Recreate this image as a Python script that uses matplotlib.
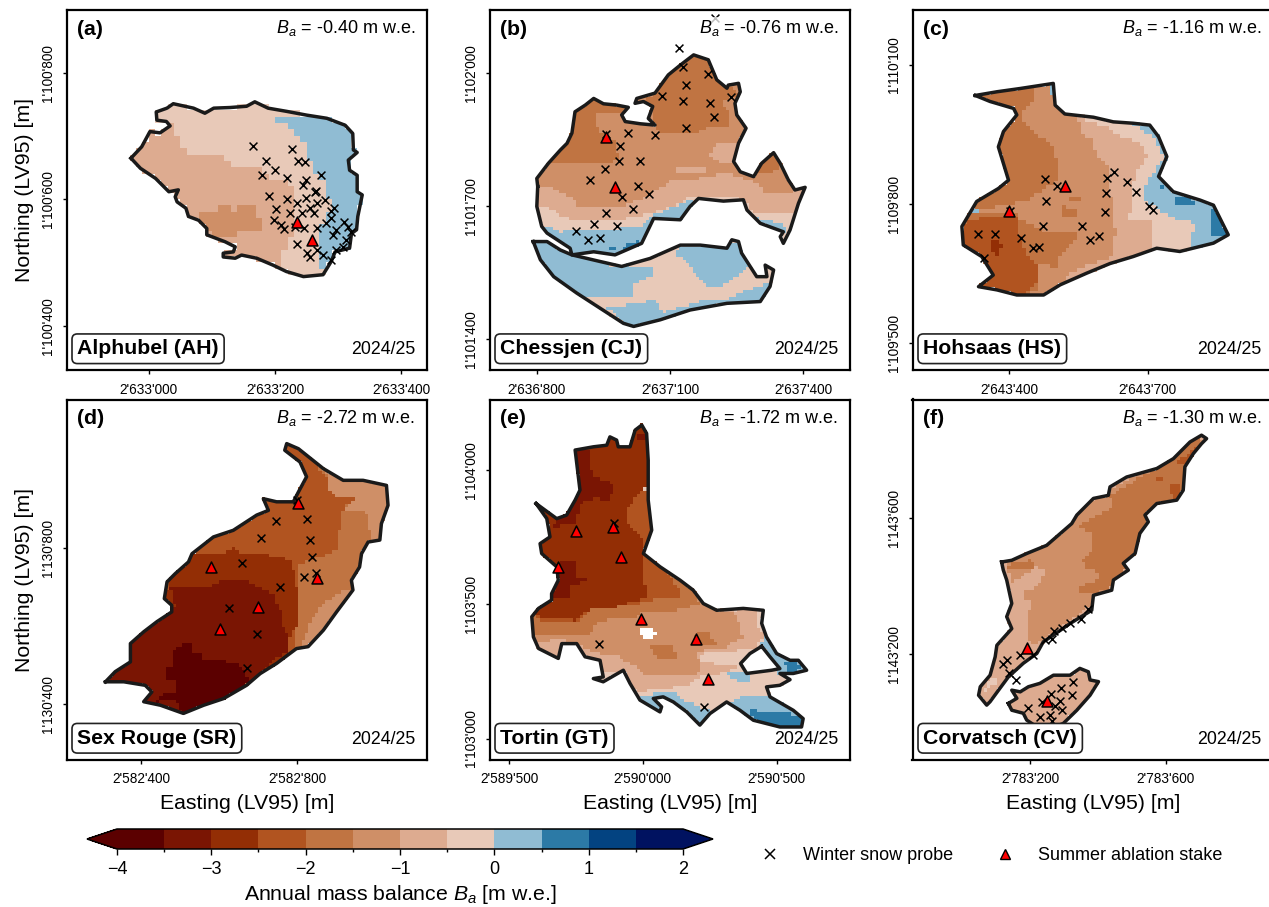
import numpy as np
import matplotlib
matplotlib.use("Agg")
import matplotlib.pyplot as plt
from matplotlib.colors import ListedColormap, BoundaryNorm
from matplotlib.cm import ScalarMappable
from matplotlib.lines import Line2D
from matplotlib.path import Path
from matplotlib.ticker import FuncFormatter

plt.rcParams["font.family"] = ["Liberation Sans", "DejaVu Sans"]
plt.rcParams["mathtext.fontset"] = "custom"
plt.rcParams["mathtext.rm"] = "Liberation Sans"
plt.rcParams["mathtext.it"] = "Liberation Sans:italic"

# mass balance classes
LEVELS = [-4, -3.5, -3, -2.5, -2, -1.5, -1, -0.5, 0, 0.5, 1, 1.5, 2]
COLORS = ["#5b0000", "#7a1503", "#932e05", "#b15420", "#c07442", "#cf8f67",
          "#ddab90", "#e8c9b8", "#90bcd3", "#2c7aa6", "#034381", "#001260"]

# --- (a) Alphubel: metres east/north of the origin below
AH_ORIGIN = (2633000, 1100400)
AH_XLIM = (2632870, 2633440.5)
AH_YLIM = (1100330.5, 1100899)
AH_XTICKS = [2633000, 2633200, 2633400]
AH_YTICKS = [1100400, 1100600, 1100800]
AH_OUTLINE = [(-28,265),(-11,283),(2,307),(18,305),(34,316),(28,323),(13,325),(12,338),(29,344),(39,351),
              (71,344),(89,336),(103,344),(129,345),(155,347),(168,354),(189,344),(218,339),(250,333),(282,328),
              (311,317),(323,304),(324,278),(330,274),(316,262),(318,246),(330,238),(330,212),(338,207),(331,173),
              (329,152),(321,146),(318,123),(295,117),(289,102),(276,81),(245,78),(218,86),(197,96),(171,107),
              (147,112),(137,107),(118,109),(118,115),(134,117),(137,125),(121,133),(92,144),(92,154),(79,167),
              (63,173),(59,186),(45,196),(42,204),(47,215),(32,212),(11,233),(-13,249)]
AH_BLUE = [(197,333),(200,321),(221,317),(239,302),(251,288),(253,265),(261,252),(271,231),(282,220),(282,204),
           (289,186),(276,162),(268,136),(268,94),(297,94),(324,115),(345,199),(334,283),(313,331)]
AH_TAN = [(39,317),(39,302),(50,299),(50,283),(61,270),(118,267),(132,252),(176,249),(197,231),(224,223),
          (232,209),(229,178),(224,125),(211,120),(211,88),(124,99),(18,188),(-39,262),(-3,315)]
AH_DARK = [(82,181),(111,181),(111,191),(129,191),(129,181),(141,181),(141,191),(171,191),(171,170),(180,170),
           (180,151),(141,151),(141,141),(113,141),(92,152),(82,167)]
AH_PROBES = [(165,284),(227,279),(185,260),(236,260),(248,259),(180,238),(200,246),(219,233),(249,231),(272,238),
             (244,222),(265,213),(263,211),(191,206),(219,200),(249,202),(279,199),(267,195),(234,194),(202,184),
             (224,179),(242,178),(255,186),(262,179),(293,186),(288,181),(289,170),(199,167),(209,159),(214,153),
             (232,157),(246,155),(266,155),(280,162),(309,165),(316,157),(297,152),(291,144),(321,149),(313,136),
             (234,129),(250,115),(255,109),(266,120),(276,112),(289,104),(297,120),(308,125)]
AH_STAKES = [(235,165),(259,136)]
AH_ZONES = [(0.25, AH_BLUE), (-0.75, AH_TAN), (-1.25, AH_DARK)]

# --- (b) Chessjen
CJ_ORIGIN = (2636800, 1101400)
CJ_XLIM = (2636693.5, 2637505)
CJ_YLIM = (1101331, 1102141)
CJ_XTICKS = [2636800, 2637100, 2637400]
CJ_YTICKS = [1101400, 1101700, 1102000]
CJ_UPPER = [(2,344),(0,362),(26,396),(53,426),(68,441),(79,464),(86,512),(109,527),(128,542),(150,530),
            (180,527),(206,522),(191,505),(199,490),(233,485),(266,482),(251,497),(261,524),(240,535),(221,531),
            (225,542),(266,554),(296,595),(323,617),(353,640),(386,629),(405,584),(428,565),(431,572),(454,576),
            (458,557),(446,531),(450,505),(471,475),(454,441),(443,400),(458,377),(488,366),(506,396),(533,420),
            (548,396),(566,359),(581,336),(604,342),(589,306),(570,246),(555,216),(548,231),(555,242),(503,261),
            (473,291),(465,314),(420,311),(364,317),(345,299),(323,269),(263,272),(236,216),(176,190),(128,197),
            (79,190),(75,205),(23,239),(11,254),(0,299)]
CJ_LOWER = [(-8,220),(23,220),(53,201),(79,190),(143,175),(191,164),(255,182),(323,212),(368,212),(428,205),
            (439,224),(454,220),(461,194),(495,141),(518,141),(514,167),(533,156),(525,119),(503,85),(428,81),
            (345,66),(278,44),(218,29),(195,36),(90,104),(38,141),(8,179)]
CJ_BLUE_UP = [(8,261),(53,242),(143,246),(233,254),(263,280),(293,291),(338,310),(353,321),(353,239),(203,164),(0,194)]
CJ_BLUE_RIGHT = [(491,280),(503,272),(548,261),(566,246),(540,224),(488,254)]
CJ_BLUE_LOW1 = [(-11,220),(83,186),(195,160),(259,164),(259,145),(214,119),(218,100),(150,92),(83,96),(30,149),(-4,186)]
CJ_BLUE_LOW2 = [(315,201),(353,216),(458,216),(480,164),(420,122),(383,122),(353,149),(345,171),(315,190)]
CJ_BLUE_LOW3 = [(158,70),(218,81),(270,89),(285,59),(315,70),(368,85),(428,89),(473,111),(529,130),(510,74),(353,51),(218,21)]
CJ_DEEP_LOW = [(338,65),(383,70),(386,77),(413,77),(413,66),(353,55)]
CJ_DEEP_UP1 = [(195,210),(229,222),(236,212),(199,197)]
CJ_DEEP_UP2 = [(160,210),(178,210),(178,201),(160,201)]
CJ_TAN = [(-8,299),(26,299),(53,276),(98,269),(203,272),(255,284),(308,299),(345,321),(465,317),(488,284),
          (593,284),(623,359),(353,689),(53,614),(-23,426)]
CJ_MID = [(-4,344),(38,340),(75,321),(98,295),(203,302),(244,321),(308,359),(353,359),(428,374),(450,366),
          (503,351),(506,332),(578,332),(608,351),(578,426),(488,426),(503,539),(353,689),(53,614),(-23,426)]
CJ_ISLE1 = [(311,389),(375,392),(383,370),(311,370)]
CJ_ISLE2 = [(390,411),(405,441),(458,445),(450,396),(420,396)]
CJ_HIGH1 = [(19,392),(83,396),(158,396),(184,404),(180,441),(139,471),(131,505),(150,512),(188,509),(210,531),
            (128,554),(75,524),(60,441)]
CJ_HIGH2 = [(259,482),(278,464),(353,464),(405,482),(431,482),(431,516),(413,539),(458,546),(420,591),(383,636),
            (353,647),(293,599),(255,546),(233,531),(263,524)]
CJ_HIGH3 = [(491,370),(551,381),(536,422),(514,411)]
CJ_PROBES = [(320,656),(330,612),(386,596),(336,572),(282,548),(329,537),(390,531),(437,546),(398,500),(336,475),
             (206,464),(266,459),(156,462),(188,434),(184,401),(233,401),(153,383),(120,359),(227,344),(253,327),
             (191,321),(216,293),(155,285),(128,260),(181,256),(89,244),(116,223),(142,228),(401,722)]
CJ_STAKES = [(156,456),(176,342)]
CJ_ZONES = [(0.25, CJ_BLUE_UP), (0.25, CJ_BLUE_RIGHT), (0.25, CJ_BLUE_LOW1), (0.25, CJ_BLUE_LOW2),
            (0.25, CJ_BLUE_LOW3), (0.75, CJ_DEEP_LOW), (0.75, CJ_DEEP_UP1), (0.75, CJ_DEEP_UP2),
            (-0.75, CJ_TAN), (-1.25, CJ_MID), (-0.75, CJ_ISLE1), (-0.75, CJ_ISLE2),
            (-1.75, CJ_HIGH1), (-1.75, CJ_HIGH2), (-1.75, CJ_HIGH3)]

# --- (c) Hohsaas
HS_ORIGIN = (2643400, 1109500)
HS_XLIM = (2643190, 2643971)
HS_YLIM = (1109441, 1110218.6)
HS_XTICKS = [2643400, 2643700]
HS_YTICKS = [1109500, 1109800, 1110100]
HS_OUTLINE = [(-74,534),(-27,542),(23,549),(95,560),(99,513),(120,494),(182,487),(225,477),(268,474),(304,470),
              (323,445),(341,402),(323,359),(355,326),(413,308),(442,297),(460,261),(474,233),(442,215),(369,197),
              (319,204),(268,186),(218,171),(167,150),(110,125),(74,103),(16,103),(-27,114),(-67,121),(-35,146),
              (-60,186),(-100,211),(-103,251),(-71,305),(-24,333),(-2,351),(-24,423),(-13,456),(16,492),(9,506),(-42,521)]
HS_PALE = [(153,495),(276,470),(308,445),(323,427),(333,395),(312,366),(290,330),(290,308),(326,287),(362,265),
           (402,258),(402,240),(391,229),(391,189),(319,197),(225,164),(153,308)]
HS_TAN = [(149,499),(171,477),(221,463),(225,452),(283,434),(297,402),(279,373),(265,337),(261,265),(312,265),
          (312,193),(225,164),(131,121),(74,92),(81,452)]
HS_MID = [(149,499),(153,456),(178,438),(189,409),(218,380),(211,351),(221,308),(229,236),(218,182),(167,168),
          (124,146),(110,114),(59,92),(-63,236),(-63,452),(23,560),(81,567),(102,510)]
HS_HIGH_N = [(-74,535),(52,553),(51,517),(23,492),(34,474),(59,452),(99,423),(102,373),(102,348),(66,326),
             (38,308),(-20,297),(-60,287),(-114,294),(-63,452)]
HS_HIGH_S = [(-121,279),(16,279),(23,265),(74,240),(146,240),(146,222),(110,193),(102,164),(63,171),(59,114),
             (9,92),(-92,107),(-121,236)]
HS_PATCH1 = [(131,319),(152,319),(152,310),(131,310)]
HS_PATCH2 = [(112,301),(120,301),(120,288),(147,288),(147,269),(120,269),(112,279)]
HS_HIGHER = [(-110,251),(-63,269),(16,269),(23,236),(38,186),(59,171),(59,128),(30,96),(-78,114),(-35,150),(-63,193),(-107,211)]
HS_TOP = [(-38,218),(-20,218),(-20,209),(-12,209),(-12,202),(-20,202),(-20,191),(-29,191),(-29,200),(-38,200)]
HS_DEEP1 = [(361,319),(402,308),(402,301),(362,301)]
HS_DEEP2 = [(433,290),(452,279),(478,258),(478,233),(433,233)]
HS_DEEP3 = [(323,348),(341,330),(323,330)]
HS_PROBES = [(78,353),(102,338),(211,356),(226,369),(255,348),(274,326),(210,323),(79,307),(1,285),(302,295),
             (312,287),(206,282),(73,251),(158,251),(195,230),(174,222),(-69,235),(-32,235),(24,226),(52,205),(65,207),(-55,182)]
HS_STAKES = [(120,338),(-2,284)]
HS_ZONES = [(0.75, HS_DEEP1), (0.75, HS_DEEP2), (0.75, HS_DEEP3), (-0.25, HS_PALE), (-0.75, HS_TAN), (-1.25, HS_MID),
            (-1.75, HS_HIGH_N), (-1.75, HS_HIGH_S), (-1.75, HS_PATCH1), (-1.75, HS_PATCH2),
            (-2.25, HS_HIGHER), (-2.75, HS_TOP)]

# --- (d) Sex Rouge
SR_ORIGIN = (2582400, 1130400)
SR_XLIM = (2582208, 2583133)
SR_YLIM = (1130259, 1131181)
SR_XTICKS = [2582400, 2582800]
SR_YTICKS = [1130400, 1130800]
SR_OUTLINE = [(-92,58),(-67,84),(-28,109),(-28,156),(6,186),(40,212),(78,237),(78,254),(59,271),(66,314),
              (87,335),(121,365),(130,386),(185,429),(236,446),(296,485),(326,497),(313,527),(347,519),(390,519),
              (403,544),(424,583),(407,621),(368,651),(373,668),(403,655),(467,604),(518,574),(569,574),(629,561),
              (633,510),(616,463),(612,421),(582,416),(565,386),(560,352),(539,318),(543,293),(501,237),(467,190),
              (428,148),(398,143),(347,105),(305,79),(270,49),(211,15),(160,-2),(108,-23),(49,-2),(6,7),
              (27,32),(10,49),(-45,58)]
SR_B175 = [(403,139),(420,169),(428,194),(441,224),(467,258),(501,284),(548,301),(565,378),(590,429),(582,463),
           (577,493),(518,497),(548,527),(499,530),(482,550),(479,583),(390,676),(-122,37),(219,-6)]
SR_B225 = [(479,581),(479,553),(499,527),(548,530),(518,502),(514,463),(505,429),(501,395),(475,382),(407,361),
           (398,293),(390,122),(-122,37),(49,548),(347,719)]
SR_B275 = [(125,386),(228,391),(236,402),(258,386),(322,382),(386,369),(394,327),(407,258),(407,216),(381,173),
           (381,131),(339,96),(134,-6),(6,-6),(49,207),(74,327)]
SR_B325 = [(74,297),(168,301),(202,314),(270,318),(305,301),(339,284),(360,233),(356,207),(381,173),(381,139),
           (339,113),(296,71),(219,11),(49,-32),(-122,54),(-37,165),(49,216),(87,250)]
SR_B375 = [(59,96),(83,96),(83,139),(108,156),(130,160),(130,131),(160,126),(160,118),(245,105),(283,62),
           (211,7),(108,-32),(91,11),(40,7),(49,24),(87,28),(87,62),(59,62)]
SR_PROBES = [(400,523),(425,476),(345,469),(433,421),(306,426),(437,378),(258,363),(418,327),(448,337),(356,300),
             (225,247),(298,180),(272,94)]
SR_STAKES = [(403,516),(179,351),(452,324),(299,249),(203,194)]
SR_ZONES = [(-1.75, SR_B175), (-2.25, SR_B225), (-2.75, SR_B275), (-3.25, SR_B325), (-3.75, SR_B375)]

# --- (e) Tortin
GT_ORIGIN = (2589500, 1103000)
GT_XLIM = (2589427, 2590774)
GT_YLIM = (1102922, 1104261)
GT_XTICKS = [2589500, 2590000, 2590500]
GT_YTICKS = [1103000, 1103500, 1104000]
GT_OUTLINE = [(101,874),(178,818),(215,831),(247,887),(265,924),(247,1073),(315,1085),(365,1091),(377,1122),(402,1110),
              (408,1085),(452,1085),(471,1147),(496,1166),(514,1135),(520,1035),(520,887),(533,775),(502,688),(564,639),
              (639,589),(688,552),(726,502),(776,477),(875,484),(950,477),(944,428),(962,378),(1000,316),(1050,291),
              (1081,291),(1112,254),(1062,242),(1012,242),(1050,219),(1012,198),(962,192),(975,155),(1062,105),(1099,74),
              (1093,43),(1012,43),(913,68),(863,105),(813,136),(751,93),(713,50),(664,99),(614,136),(576,155),
              (539,149),(570,118),(564,99),(489,143),(452,205),(427,254),(352,211),(315,223),(352,229),(340,291),
              (284,304),(253,353),(197,353),(184,298),(110,335),(91,378),(85,453),(110,484),(159,515),(159,539),
              (184,589),(178,639),(122,688),(116,725),(153,750),(141,818)]
GT_ISLAND = [(944,343),(900,316),(865,279),(888,242),(981,254),(1012,260),(975,304)]
GT_GAP = [(489,405),(545,405),(552,384),(533,372),(496,378)]
GT_NE = [(956,391),(1000,341),(1112,279),(1124,242),(1012,229),(975,304),(944,353)]
GT_NE_DEEP = [(1031,279),(1074,298),(1087,254),(1043,248)]
GT_PATCH = [(813,244),(875,248),(900,229),(894,205),(838,219)]
GT_SE = [(850,149),(913,167),(975,155),(1112,81),(1099,31),(913,43),(813,124)]
GT_SE_DEEP = [(888,118),(938,99),(1025,99),(1106,74),(1099,31),(1012,31),(925,56)]
GT_S = [(489,161),(614,174),(664,136),(763,99),(713,37),(614,124),(564,87),(477,136)]
GT_B075 = [(838,477),(925,484),(925,415),(956,391),(925,341),(863,329),(726,316),(707,285),(813,273),(850,267),
           (801,242),(713,229),(664,198),(589,186),(477,174),(402,242),(66,304),(66,676),(564,676)]
GT_B125 = [(776,490),(844,465),(863,428),(873,378),(813,341),(726,331),(707,316),(713,242),(645,229),(514,236),
           (452,279),(402,310),(340,316),(284,335),(203,372),(103,360),(66,428),(66,676),(564,676)]
GT_B175 = [(85,440),(91,384),(190,384),(303,384),(327,428),(390,453),(477,453),(489,477),(626,477),(713,502),
           (688,552),(564,676),(66,676)]
GT_P1 = [(527,353),(614,341),(626,304),(552,291)]
GT_P2 = [(701,403),(738,403),(776,353),(738,341),(688,360)]
GT_B225 = [(97,453),(122,440),(253,434),(303,484),(489,502),(552,521),(632,515),(639,552),(576,632),(502,688),
           (533,775),(520,924),(464,936),(190,924),(66,676)]
GT_B275 = [(122,446),(253,440),(309,490),(396,490),(508,521),(514,564),(496,601),(496,688),(502,738),(440,800),
           (433,849),(477,899),(514,936),(520,998),(520,1184),(440,1184),(247,1086),(240,887),(91,887),(66,676),(78,490)]
GT_B325A = [(247,1073),(309,1073),(303,1023),(315,973),(396,949),(377,887),(315,893),(271,874),(247,800),(166,787),
            (178,825),(247,887)]
GT_B325B = [(178,651),(247,663),(253,601),(288,591),(228,564),(228,521),(159,521),(184,589)]
GT_B325C = [(471,1135),(514,1141),(520,1104),(471,1104)]
GT_PROBES = [(391,802),(337,352),(727,117)]
GT_STAKES = [(250,771),(387,787),(417,676),(182,637),(493,445),(698,372),(743,222)]
GT_ZONES = [(0.25, GT_NE), (0.75, GT_NE_DEEP), (0.25, GT_PATCH), (0.25, GT_SE), (0.75, GT_SE_DEEP), (0.25, GT_S),
            (-0.75, GT_B075), (-1.25, GT_B125), (-1.75, GT_B175), (-1.75, GT_P1), (-1.75, GT_P2),
            (-2.25, GT_B225), (-2.75, GT_B275), (-3.25, GT_B325A), (-3.25, GT_B325B), (-3.25, GT_B325C)]

# --- (f) Corvatsch
CV_ORIGIN = (2783200, 1143200)
CV_XLIM = (2782853, 2783917)
CV_YLIM = (1142890, 1143949)
CV_XTICKS = [2783200, 2783600]
CV_YTICKS = [1143200, 1143600]
CV_UPPER = [(-84,271),(-54,276),(-10,296),(49,320),(123,384),(138,409),(187,458),(231,467),(236,492),(285,521),
            (374,546),(423,575),(472,624),(506,644),(521,634),(506,619),(482,590),(457,551),(452,482),(433,453),
            (374,443),(339,409),(349,389),(324,355),(310,296),(275,267),(290,247),(246,218),(241,188),(187,173),
            (182,129),(118,90),(69,56),(39,36),(20,2),(-20,-27),(-64,-67),(-93,-106),(-118,-140),(-128,-150),
            (-152,-121),(-147,-96),(-118,-62),(-103,-8),(-98,26),(-54,75),(-69,110),(-54,149),(-69,218),(-79,247)]
CV_LOWER = [(-64,-145),(-39,-130),(-54,-106),(-29,-111),(-5,-96),(29,-86),(69,-62),(118,-62),(147,-42),(172,-52),
            (177,-76),(202,-81),(177,-121),(138,-165),(98,-204),(59,-219),(20,-214),(-10,-194),(-20,-174),(-54,-165)]
CV_B125 = [(-74,281),(246,492),(541,649),(462,443),(187,149),(49,51),(0,22),(-5,71),(-10,110),(10,149),
           (-20,169),(-20,188),(20,198),(49,247),(20,257),(-10,237),(-59,208),(-64,257)]
CV_B175 = [(147,384),(236,423),(241,448),(236,467),(423,580),(511,654),(462,443),(305,286),(246,198),(187,178),
           (138,178),(138,198),(206,218),(206,242),(162,257),(157,276),(187,316),(187,355),(147,374)]
CV_B175NW = [(-64,257),(-54,271),(5,276),(20,257),(-29,247),(-59,247)]
CV_B225A = [(433,565),(492,610),(472,570),(447,556)]
CV_B225B = [(413,497),(447,502),(447,463),(428,453),(413,472)]
CV_B225C = [(371,519),(393,519),(393,510),(371,510)]
CV_B025 = [(-128,-86),(-103,-67),(-98,-86),(-138,-111)]
CV_PROBES = [(172,134),(150,102),(118,93),(93,78),(71,67),(44,41),(66,43),(10,-3),(-29,-3),(-69,-18),
             (-81,-29),(-61,-55),(-42,-76),(128,-83),(90,-99),(123,-121),(61,-116),(36,-142),(88,-137),(74,-153),
             (-7,-158),(93,-165),(59,-179),(28,-186),(64,-196)]
CV_STAKES = [(-10,17),(51,-138)]
CV_ZONES = [(-1.25, CV_B125), (-1.75, CV_B175), (-1.75, CV_B175NW), (-2.25, CV_B225A), (-2.25, CV_B225B),
            (-2.25, CV_B225C), (-0.25, CV_B025)]

PANELS = [
    dict(tag="(a)", name="Alphubel (AH)", ba="-0.40", origin=AH_ORIGIN, xlim=AH_XLIM, ylim=AH_YLIM, xticks=AH_XTICKS,
         yticks=AH_YTICKS, rings=[AH_OUTLINE], holes=[], gaps=[], base=-0.25, zones=AH_ZONES, cell=10,
         probes=AH_PROBES, stakes=AH_STAKES),
    dict(tag="(b)", name="Chessjen (CJ)", ba="-0.76", origin=CJ_ORIGIN, xlim=CJ_XLIM, ylim=CJ_YLIM, xticks=CJ_XTICKS,
         yticks=CJ_YTICKS, rings=[CJ_UPPER, CJ_LOWER], holes=[], gaps=[], base=-0.25, zones=CJ_ZONES, cell=7.5,
         probes=CJ_PROBES, stakes=CJ_STAKES),
    dict(tag="(c)", name="Hohsaas (HS)", ba="-1.16", origin=HS_ORIGIN, xlim=HS_XLIM, ylim=HS_YLIM, xticks=HS_XTICKS,
         yticks=HS_YTICKS, rings=[HS_OUTLINE], holes=[], gaps=[], base=0.25, zones=HS_ZONES, cell=8.5,
         probes=HS_PROBES, stakes=HS_STAKES),
    dict(tag="(d)", name="Sex Rouge (SR)", ba="-2.72", origin=SR_ORIGIN, xlim=SR_XLIM, ylim=SR_YLIM, xticks=SR_XTICKS,
         yticks=SR_YTICKS, rings=[SR_OUTLINE], holes=[], gaps=[], base=-1.25, zones=SR_ZONES, cell=8.5,
         probes=SR_PROBES, stakes=SR_STAKES),
    dict(tag="(e)", name="Tortin (GT)", ba="-1.72", origin=GT_ORIGIN, xlim=GT_XLIM, ylim=GT_YLIM, xticks=GT_XTICKS,
         yticks=GT_YTICKS, rings=[GT_OUTLINE], holes=[GT_ISLAND], gaps=[GT_GAP], base=-0.25, zones=GT_ZONES, cell=12.5,
         probes=GT_PROBES, stakes=GT_STAKES),
    dict(tag="(f)", name="Corvatsch (CV)", ba="-1.30", origin=CV_ORIGIN, xlim=CV_XLIM, ylim=CV_YLIM, xticks=CV_XTICKS,
         yticks=CV_YTICKS, rings=[CV_UPPER, CV_LOWER], holes=[], gaps=[], base=-0.75, zones=CV_ZONES, cell=10,
         probes=CV_PROBES, stakes=CV_STAKES),
]

W, H = 1269, 907
AX_LEFT = [66.5, 489.5, 912.5]
AX_TOP = [10, 399.5]
AX_SIZE = (360.5, 360)

cmap = ListedColormap(COLORS)
cmap.set_under(COLORS[0])
cmap.set_over(COLORS[-1])
norm = BoundaryNorm(LEVELS, cmap.N)
swiss = FuncFormatter(lambda v, _: f"{v:,.0f}".replace(",", "'"))


def to_lv95(points, origin):
    pts = np.array(points, dtype=float)
    return pts + np.array(origin)


def raster(panel):
    origin = panel["origin"]
    cell = panel["cell"]
    x = np.arange(panel["xlim"][0], panel["xlim"][1] + cell, cell)
    y = np.arange(panel["ylim"][0], panel["ylim"][1] + cell, cell)
    cx, cy = np.meshgrid((x[:-1] + x[1:]) / 2, (y[:-1] + y[1:]) / 2)
    centres = np.column_stack([cx.ravel(), cy.ravel()])
    grid = np.full(centres.shape[0], panel["base"], dtype=float)
    for value, poly in panel["zones"]:
        grid[Path(to_lv95(poly, origin)).contains_points(centres)] = value
    inside = np.zeros(centres.shape[0], dtype=bool)
    for ring in panel["rings"]:
        inside |= Path(to_lv95(ring, origin)).contains_points(centres)
    for hole in panel["holes"] + panel["gaps"]:
        inside &= ~Path(to_lv95(hole, origin)).contains_points(centres)
    grid = np.ma.masked_where(~inside, grid).reshape(cx.shape)
    return x, y, grid


def draw_panel(ax, panel, row, col):
    origin = panel["origin"]
    x, y, grid = raster(panel)
    ax.pcolormesh(x, y, grid, cmap=cmap, norm=norm, shading="flat", rasterized=True, zorder=1)
    for ring in panel["rings"] + panel["holes"]:
        pts = to_lv95(ring + ring[:1], origin)
        ax.plot(pts[:, 0], pts[:, 1], color="#1a1a1a", lw=2.5, solid_joinstyle="round", zorder=2)
    probes = to_lv95(panel["probes"], origin)
    stakes = to_lv95(panel["stakes"], origin)
    ax.scatter(probes[:, 0], probes[:, 1], marker="x", s=32, c="black", linewidths=1.1, zorder=3)
    ax.scatter(stakes[:, 0], stakes[:, 1], marker="^", s=62, c="red", edgecolors="black", linewidths=1.1, zorder=4)
    ax.set_xlim(panel["xlim"])
    ax.set_ylim(panel["ylim"])
    ax.set_xticks(panel["xticks"])
    ax.set_yticks(panel["yticks"])
    ax.xaxis.set_major_formatter(swiss)
    ax.yaxis.set_major_formatter(swiss)
    ax.tick_params(axis="x", labelsize=9.8, length=3, width=1, pad=6)
    ax.tick_params(axis="y", labelsize=9.8, length=3, width=1, pad=5)
    plt.setp(ax.get_yticklabels(), rotation=90, va="center")
    for s in ax.spines.values():
        s.set_linewidth(1.6)
    if row == 1:
        ax.set_xlabel("Easting (LV95) [m]", fontsize=15.3, labelpad=5.5)
    if col == 0:
        ax.set_ylabel("Northing (LV95) [m]", fontsize=15.3, labelpad=5.5)
    ax.text(0.03, 0.947, panel["tag"], transform=ax.transAxes, fontsize=15.3, fontweight="bold",
            va="center", ha="left", zorder=6)
    ax.text(0.968, 0.95, f"$B_a$ = {panel['ba']} m w.e.", transform=ax.transAxes, fontsize=13, va="center",
            ha="right", zorder=6, bbox=dict(facecolor="white", edgecolor="none", alpha=0.75, pad=1))
    ax.text(0.968, 0.056, "2024/25", transform=ax.transAxes, fontsize=12.8, va="center", ha="right", zorder=6)
    ax.text(0.03, 0.059, panel["name"], transform=ax.transAxes, fontsize=15.3, fontweight="bold", va="center",
            ha="left", zorder=6,
            bbox=dict(boxstyle="round,pad=0.25", facecolor="white", edgecolor="#222222", linewidth=1.2))


fig = plt.figure(figsize=(W / 100, H / 100), dpi=100)
for i, panel in enumerate(PANELS):
    row, col = divmod(i, 3)
    ax = fig.add_axes([AX_LEFT[col] / W, 1 - (AX_TOP[row] + AX_SIZE[1]) / H, AX_SIZE[0] / W, AX_SIZE[1] / H])
    draw_panel(ax, panel, row, col)

cax = fig.add_axes([87 / W, 1 - 849 / H, 626 / W, 20 / H])
cb = fig.colorbar(ScalarMappable(norm=norm, cmap=cmap), cax=cax, orientation="horizontal", extend="both",
                  extendfrac=0.0529, spacing="uniform", ticks=LEVELS[::2])
cb.ax.set_xticks(LEVELS[1::2], minor=True)
cb.ax.tick_params(which="major", labelsize=13, length=4, width=1, pad=4.5)
cb.ax.tick_params(which="minor", length=2.5, width=1)
cb.outline.set_linewidth(1.1)
cb.set_label("Annual mass balance $B_a$ [m w.e.]", fontsize=15.3, labelpad=3.5)

handles = [
    Line2D([], [], marker="x", ls="none", color="black", ms=7, mew=1.1, label="Winter snow probe"),
    Line2D([], [], marker="^", ls="none", mfc="red", mec="black", ms=7, mew=1, label="Summer ablation stake"),
]
fig.legend(handles=handles, loc="center left", bbox_to_anchor=(736 / W, 1 - 856 / H), ncol=2, frameon=False,
           fontsize=13, handletextpad=0.8, columnspacing=1.9)

fig.savefig("out.png", dpi=100)
